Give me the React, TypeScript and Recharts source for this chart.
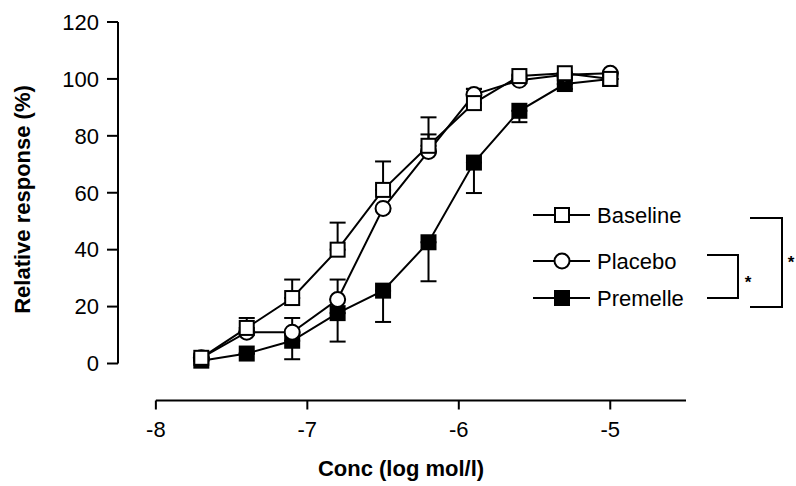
import React from 'react';
import { LineChart, Line, XAxis, YAxis, ErrorBar, ReferenceLine, Label } from 'recharts';

const concentrations = [-7.7, -7.4, -7.1, -6.8, -6.5, -6.2, -5.9, -5.6, -5.3, -5.0];
const baseline = [2, 12.5, 23, 40, 61, 76.5, 91.5, 101, 102, 100];
const baselineErrUp = [0, 3.5, 6.5, 9.5, 10, 10, 5, 0.5, 0, 0];
const placebo = [2, 11, 11, 22.5, 54.5, 74.5, 94.5, 99.5, 101.5, 102];
const placeboErrUp = [0, 0, 5, 7, 0, 6, 2, 0, 0, 0];
const premelle = [1, 3.5, 8, 17.7, 25.6, 42.6, 70.6, 88.8, 98.2, 100];
const premelleErrDown = [0, 0, 6.5, 10, 11, 13.7, 10.7, 4, 1.7, 0];
const xTicks = [-8, -7, -6, -5];
const yTicks = [0, 20, 40, 60, 80, 100, 120];
const seriesNames = ['Baseline', 'Placebo', 'Premelle'];

const data = concentrations.map((x, i) => ({
  x,
  baseline: baseline[i],
  baselineErr: [0, baselineErrUp[i]],
  placebo: placebo[i],
  placeboErr: [0, placeboErrUp[i]],
  premelle: premelle[i],
  premelleErr: [premelleErrDown[i], 0],
}));

const FONT = '"Liberation Sans", Arial, Helvetica, sans-serif';

const squareDot = (fill: string) => (props: any) => {
  const { cx, cy, index } = props;
  if (cx == null || cy == null) return <g key={`s-${fill}-${index}`} />;
  return <rect key={`s-${fill}-${index}`} x={cx - 7} y={cy - 7} width={14} height={14} fill={fill} stroke="#000" strokeWidth={2} />;
};
const circleDot = (props: any) => {
  const { cx, cy, index } = props;
  if (cx == null || cy == null) return <g key={`c-${index}`} />;
  return <circle key={`c-${index}`} cx={cx} cy={cy} r={7.5} fill="#fff" stroke="#000" strokeWidth={2} />;
};

const LegendMarker = ({ kind, y }: { kind: string; y: number }) => (
  <g>
    <line x1={533} x2={590} y1={y} y2={y} stroke="#000" strokeWidth={2} />
    {kind === 'circle' ? (
      <circle cx={562} cy={y} r={7.5} fill="#fff" stroke="#000" strokeWidth={2} />
    ) : (
      <rect x={555} y={y - 7} width={14} height={14} fill={kind === 'filled' ? '#000' : '#fff'} stroke="#000" strokeWidth={2} />
    )}
  </g>
);

export default function App() {
  const legendYs = [215, 261, 298];
  const kinds = ['open', 'circle', 'filled'];
  return (
    <div style={{ position: 'absolute', left: 0, top: 0, width: 796, height: 486, background: '#fff', fontFamily: FONT }}>
      <LineChart width={796} height={486} data={data} margin={{ top: 22, right: 110, bottom: 25.5, left: 18 }}>
        <XAxis
          type="number"
          dataKey="x"
          domain={[-8.25, -4.5]}
          ticks={xTicks}
          allowDataOverflow
          axisLine={false}
          tickLine={{ stroke: '#000', strokeWidth: 2 }}
          tickSize={9}
          tickMargin={12}
          height={60}
          tick={{ fill: '#000', fontSize: 22, fontFamily: FONT }}
        >
          <Label
            content={() => (
              <text x={401} y={468} textAnchor="middle" dominantBaseline="central" fontSize={22} fontWeight="bold" fontFamily={FONT} fill="#000">
                Conc (log mol/l)
              </text>
            )}
          />
        </XAxis>
        <YAxis
          type="number"
          domain={[-13, 120]}
          ticks={yTicks}
          allowDataOverflow
          axisLine={false}
          tickLine={{ stroke: '#000', strokeWidth: 2 }}
          tickSize={11}
          tickMargin={8}
          width={100}
          tick={{ fill: '#000', fontSize: 22, fontFamily: FONT }}
        >
          <Label
            content={() => (
              <text x={22} y={199.5} transform="rotate(-90 22 199.5)" textAnchor="middle" dominantBaseline="central" fontSize={22} fontWeight="bold" fontFamily={FONT} fill="#000">
                Relative response (%)
              </text>
            )}
          />
        </YAxis>
        <ReferenceLine segment={[{ x: -8.25, y: 0 }, { x: -8.25, y: 120 }]} stroke="#000" strokeWidth={2} ifOverflow="visible" />
        <ReferenceLine segment={[{ x: -8, y: -13 }, { x: -4.5, y: -13 }]} stroke="#000" strokeWidth={2} ifOverflow="visible" />
        <Line dataKey="premelle" name={seriesNames[2]} stroke="#000" strokeWidth={2} dot={squareDot('#000')} isAnimationActive={false}>
          <ErrorBar dataKey="premelleErr" width={8} stroke="#000" strokeWidth={2} direction="y" />
        </Line>
        <Line dataKey="placebo" name={seriesNames[1]} stroke="#000" strokeWidth={2} dot={circleDot} isAnimationActive={false}>
          <ErrorBar dataKey="placeboErr" width={8} stroke="#000" strokeWidth={2} direction="y" />
        </Line>
        <Line dataKey="baseline" name={seriesNames[0]} stroke="#000" strokeWidth={2} dot={squareDot('#fff')} isAnimationActive={false}>
          <ErrorBar dataKey="baselineErr" width={8} stroke="#000" strokeWidth={2} direction="y" />
        </Line>
      </LineChart>
      <svg width={796} height={486} style={{ position: 'absolute', left: 0, top: 0, pointerEvents: 'none' }}>
        {seriesNames.map((name, i) => (
          <g key={name}>
            <LegendMarker kind={kinds[i]} y={legendYs[i]} />
            <text x={597} y={legendYs[i]} dominantBaseline="central" fontSize={22} fontFamily={FONT} fill="#000">
              {name}
            </text>
          </g>
        ))}
        <polyline points="707,255 738,255 738,298 707,298" fill="none" stroke="#000" strokeWidth={2} />
        <text x={748} y={288} textAnchor="middle" fontSize={17} fontWeight="bold" fontFamily={FONT} fill="#000">*</text>
        <polyline points="750,218 782,218 782,307 750,307" fill="none" stroke="#000" strokeWidth={2} />
        <text x={791} y={268} textAnchor="middle" fontSize={17} fontWeight="bold" fontFamily={FONT} fill="#000">*</text>
      </svg>
    </div>
  );
}
